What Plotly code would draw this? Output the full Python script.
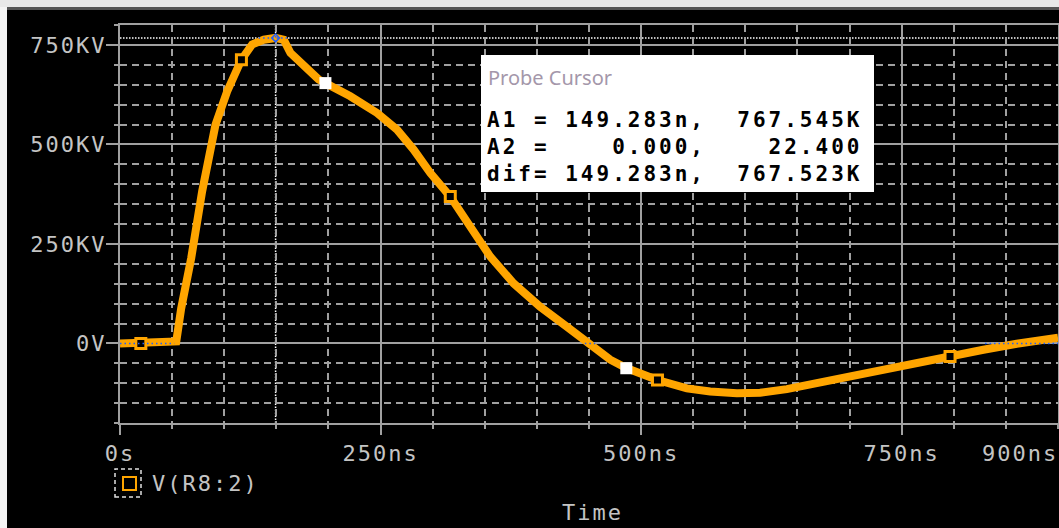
import plotly.graph_objects as go

# ---------------- data ----------------
t_ns = [0, 20, 52, 54, 58.7, 68.3, 78.8, 91.6, 102.8, 116.5, 126.8, 137.9, 149.3,
        157.1, 163.5, 173.1, 182.7, 190.6, 197.1, 221, 246.6, 265.8, 281.7, 297.8,
        316.9, 336.1, 355.3, 377.6, 403.2, 428.8, 451.2, 470.4, 485.8, 515.7, 543.9,
        566.3, 591.9, 614.2, 639.8, 668.6, 700.5, 732.5, 764.5, 796.4, 828.4, 860.4, 900]
v_kv = [0, 0, 0, 5, 88, 214, 382, 549, 633, 713, 751, 763, 767.5,
        763, 730, 705, 683, 663, 654, 621, 579, 537, 487, 428,
        369, 294, 218, 151, 92, 42, -4, -41, -62, -92, -113,
        -121, -125, -124, -115, -100, -82, -62, -46, -33, -16, -1, 14]

marker_t = [20, 116.5, 316.9, 515.7, 796.4]
marker_v = [0, 713, 369, -92, -33]
white_t = [197.1, 485.8]
white_v = [654, -62.4]

x_tick_vals = [0, 250, 500, 750]
x_tick_text = ["0s", "250ns", "500ns", "750ns"]
x_end_label = "900ns"
y_tick_vals = [0, 250, 500, 750]
y_tick_text = ["0V", "250KV", "500KV", "750KV"]

a1_t, a1_v = 149.283, 767.545
a2_t, a2_v = 0.0, 0.0224
probe_title = "Probe Cursor"
probe_lines = ["A1 = 149.283n,  767.545K",
               "A2 =    0.000,    22.400",
               "dif= 149.283n,  767.523K"]
trace_name = "V(R8:2)"
x_title = "Time"

# ---------------- styling helpers ----------------
W, H = 1059, 528
L, R, T, B = 120, 1, 25, 105
PW, PH = W - L - R, H - T - B


def px_x(px):
    return (px - L) / PW


def px_y(py):
    return (H - B - py) / PH


def spaced(s, ls=2):
    return '<span style="letter-spacing:%dpx">%s</span>' % (ls, s.replace(" ", "\u00a0"))


ORANGE = "#FFA500"
GRID = "#a0a0a0"
LABEL = "#c4c4c4"
MONO = "DejaVu Sans Mono"
XOR_BLUE = "#1f5fff"

fig = go.Figure()
fig.add_trace(go.Scatter(x=t_ns, y=v_kv, mode="lines", name=trace_name,
                         line=dict(color=ORANGE, width=8), showlegend=False))
fig.add_trace(go.Scatter(x=marker_t, y=marker_v, mode="markers", showlegend=False,
                         marker=dict(symbol="square", size=10, color="black",
                                     line=dict(color=ORANGE, width=3))))
fig.add_trace(go.Scatter(x=white_t, y=white_v, mode="markers", showlegend=False,
                         marker=dict(symbol="square", size=12, color="white",
                                     line=dict(width=0))))
fig.add_trace(go.Scatter(x=[a1_t], y=[a1_v], mode="markers", showlegend=False,
                         marker=dict(symbol="diamond-open", size=6, color=XOR_BLUE,
                                     line=dict(width=1.5))))

axis_common = dict(showline=True, linecolor=GRID, linewidth=2, mirror=True,
                   ticks="outside", tickcolor=GRID, tickwidth=2,
                   showgrid=True, gridcolor=GRID, gridwidth=2, zeroline=False,
                   automargin=False,
                   tickfont=dict(family=MONO, size=22, color=LABEL))

fig.update_xaxes(range=[0, 900], tickmode="array", tickvals=x_tick_vals,
                 ticktext=[spaced(s) for s in x_tick_text], ticklen=10,
                 minor=dict(tick0=0, dtick=50, showgrid=True, gridcolor=GRID,
                            gridwidth=1.5, griddash="7px,5px", ticks="outside",
                            ticklen=4, tickcolor=GRID, tickwidth=1.5),
                 **axis_common)
fig.update_yaxes(range=[-200, 800], tickmode="array", tickvals=y_tick_vals,
                 ticktext=[spaced(s) for s in y_tick_text], ticklen=12,
                 ticklabelstandoff=-5,
                 minor=dict(tick0=0, dtick=50, showgrid=True, gridcolor=GRID,
                            gridwidth=1.5, griddash="7px,5px", ticks="outside",
                            ticklen=4, tickcolor=GRID, tickwidth=1.5),
                 **axis_common)

shapes = []
# cursor lines (white dotted, under the trace)
shapes.append(dict(type="line", xref="x", yref="paper", x0=a1_t, x1=a1_t, y0=0, y1=1,
                   line=dict(color="white", width=1.5, dash="1.5px,1.5px"), layer="between"))
shapes.append(dict(type="line", xref="paper", yref="y", x0=0, x1=1, y0=a1_v, y1=a1_v,
                   line=dict(color="white", width=1.5, dash="1.5px,1.5px"), layer="between"))
# XOR-looking blue dots where cursor lines cross the trace
for (xa, xb, yv) in [(133, 161, a1_v), (0, 52, a2_v), (446, 456, a2_v), (830, 900, a2_v)]:
    shapes.append(dict(type="line", xref="x", yref="y", x0=xa, x1=xb, y0=yv, y1=yv,
                       line=dict(color=XOR_BLUE, width=1.5, dash="1.5px,3px"), layer="above"))
shapes.append(dict(type="line", xref="x", yref="y", x0=a1_t, x1=a1_t, y0=757, y1=777,
                   line=dict(color=XOR_BLUE, width=1.5, dash="1.5px,3px"), layer="above"))
# probe cursor box
shapes.append(dict(type="rect", xref="paper", yref="paper",
                   x0=px_x(481), x1=px_x(874), y0=px_y(192), y1=px_y(55),
                   fillcolor="white", line=dict(width=0), layer="above"))
# legend symbol
shapes.append(dict(type="rect", xref="paper", yref="paper",
                   x0=px_x(115), x1=px_x(141), y0=px_y(497), y1=px_y(469),
                   line=dict(color="#e0e0e0", width=1.5, dash="4px,3px"), layer="above"))
shapes.append(dict(type="rect", xref="paper", yref="paper",
                   x0=px_x(123), x1=px_x(136), y0=px_y(490), y1=px_y(477),
                   line=dict(color=ORANGE, width=2), layer="above"))
# window frame strips
shapes.append(dict(type="rect", xref="paper", yref="paper",
                   x0=px_x(0), x1=px_x(W), y0=px_y(7), y1=px_y(0),
                   fillcolor="#e8e8e8", line=dict(width=0), layer="above"))
shapes.append(dict(type="rect", xref="paper", yref="paper",
                   x0=px_x(0), x1=px_x(W), y0=px_y(10), y1=px_y(7),
                   fillcolor="#555555", line=dict(width=0), layer="above"))
shapes.append(dict(type="rect", xref="paper", yref="paper",
                   x0=px_x(0), x1=px_x(7), y0=px_y(H), y1=px_y(7),
                   fillcolor="#f4f4f4", line=dict(width=0), layer="above"))

annotations = []
annotations.append(dict(xref="paper", yref="paper", x=px_x(486), y=px_y(77),
                        xanchor="left", yanchor="middle", showarrow=False,
                        text=probe_title,
                        font=dict(family="Noto Sans", size=20, color="#a497aa")))
for i, line in enumerate(probe_lines):
    annotations.append(dict(xref="paper", yref="paper", x=px_x(485), y=px_y(120 + 27 * i),
                            xanchor="left", yanchor="middle", showarrow=False,
                            text="<b>" + spaced(line, 3) + "</b>",
                            font=dict(family=MONO, size=21, color="black")))
annotations.append(dict(xref="paper", yref="paper", x=px_x(1060), y=px_y(453),
                        xanchor="right", yanchor="middle", showarrow=False,
                        text=spaced(x_end_label),
                        font=dict(family=MONO, size=22, color=LABEL)))
annotations.append(dict(xref="paper", yref="paper", x=px_x(150), y=px_y(483),
                        xanchor="left", yanchor="middle", showarrow=False,
                        text=spaced(trace_name),
                        font=dict(family=MONO, size=22, color=LABEL)))
annotations.append(dict(xref="paper", yref="paper", x=px_x(560), y=px_y(512),
                        xanchor="left", yanchor="middle", showarrow=False,
                        text=spaced(x_title),
                        font=dict(family=MONO, size=22, color=LABEL)))

fig.update_layout(width=W, height=H, margin=dict(l=L, r=R, t=T, b=B, pad=0),
                  paper_bgcolor="black", plot_bgcolor="black",
                  shapes=shapes, annotations=annotations, showlegend=False)

fig.write_html("out.html", config={"displayModeBar": False},
               post_script="document.body.style.margin='0';document.body.style.overflow='hidden';")
